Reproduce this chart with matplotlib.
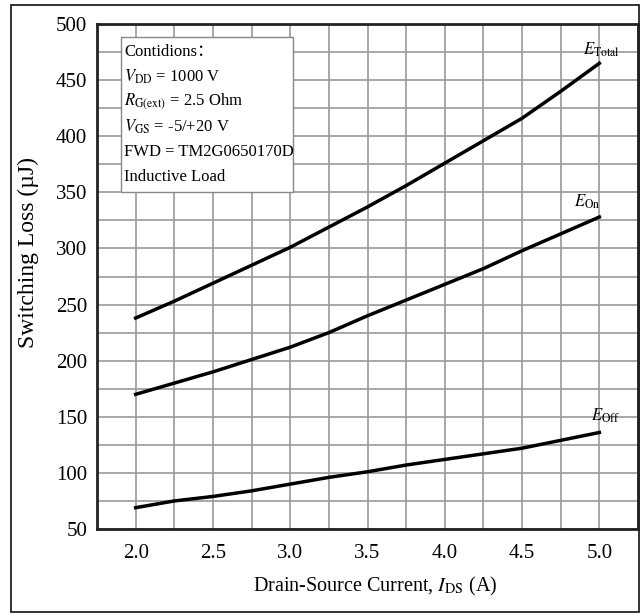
import matplotlib
matplotlib.use('Agg')
import matplotlib.pyplot as plt
import matplotlib.patches as mpatches
from matplotlib.ticker import MultipleLocator

# ============================================================
# DONNEES
# ============================================================

ids = [2.0, 2.25, 2.5, 2.75, 3.0, 3.25, 3.5, 3.75, 4.0, 4.25, 4.5, 4.75, 5.0]
e_total = [238, 253, 269, 285, 301, 319, 337, 356, 376, 396, 416, 440, 465]
e_on = [170, 180, 190, 201, 212, 225, 240, 254, 268, 282, 298, 313, 328]
e_off = [69, 75, 79, 84, 90, 96, 101, 107, 112, 117, 122, 129, 136]

x_ticks = [2.0, 2.5, 3.0, 3.5, 4.0, 4.5, 5.0]
x_ticklabels = ['2.0', '2.5', '3.0', '3.5', '4.0', '4.5', '5.0']

conditions = [
    'Contidions\uff1a',
    r'$V_{\rm DD}$ = 1000 V',
    r'$R_{\rm G(ext)}$ = 2.5 Ohm',
    r'$V_{\rm GS}$ = -5/+20 V',
    'FWD = TM2G0650170D',
    'Inductive Load',
]

plt.rcParams['font.family'] = ['Liberation Serif', 'Noto Sans CJK SC']
plt.rcParams['mathtext.fontset'] = 'stix'

fig = plt.figure(figsize=(6.41, 6.15), dpi=100)
ax = fig.add_axes([97 / 641, 86 / 615, 541 / 641, 505 / 615])

# cadre exterieur
fig.patches.append(mpatches.Rectangle((11 / 641, 3 / 615), 628 / 641, 607 / 615,
                                      transform=fig.transFigure, fill=False,
                                      edgecolor='#222222', linewidth=1.3))

ax.plot(ids, e_total, color='black', linewidth=2.5, zorder=3)
ax.plot(ids, e_on, color='black', linewidth=2.5, zorder=3)
ax.plot(ids, e_off, color='black', linewidth=2.5, zorder=3)

ax.set_xlim(1.75, 5.25)
ax.set_ylim(50, 500)
ax.xaxis.set_minor_locator(MultipleLocator(0.25))
ax.yaxis.set_major_locator(MultipleLocator(50))
ax.yaxis.set_minor_locator(MultipleLocator(25))
ax.set_xticks(x_ticks)
ax.set_xticklabels(x_ticklabels)
ax.grid(which='both', color='#9a9a9a', linewidth=1.2, zorder=0)
ax.set_axisbelow(True)
ax.tick_params(which='both', length=0, labelsize=15)
ax.tick_params(axis='x', pad=11)
ax.tick_params(axis='y', pad=7)
for sp in ax.spines.values():
    sp.set_linewidth(2.0)
    sp.set_color('#222222')

# titres des axes
fig.text(375 / 641, (615 - 586) / 615, r'Drain-Source Current, $I_{\rm DS}$ (A)',
         fontsize=14.5, ha='center', va='center')
fig.text(28 / 641, (615 - 252) / 615, 'Switching Loss (\u00b5J)', fontsize=17,
         rotation=90, ha='center', va='center')

# etiquettes des courbes
ax.text(5.01, 477, r'$E_{\rm Total}$', fontsize=12, ha='center', va='center')
ax.text(4.92, 342, r'$E_{\rm On}$', fontsize=12, ha='center', va='center')
ax.text(5.04, 151, r'$E_{\rm Off}$', fontsize=12, ha='center', va='center')

# boite des conditions
ax.add_patch(mpatches.Rectangle((0.044, 0.667), 0.318, 0.307, transform=ax.transAxes,
                                facecolor='white', edgecolor='#888888',
                                linewidth=1.0, zorder=4))
for i, line in enumerate(conditions):
    ax.text(0.05, 0.945 - i * 0.0495, line, transform=ax.transAxes, fontsize=12,
            ha='left', va='center', zorder=5)

fig.savefig('out.png', dpi=100, facecolor='white')
